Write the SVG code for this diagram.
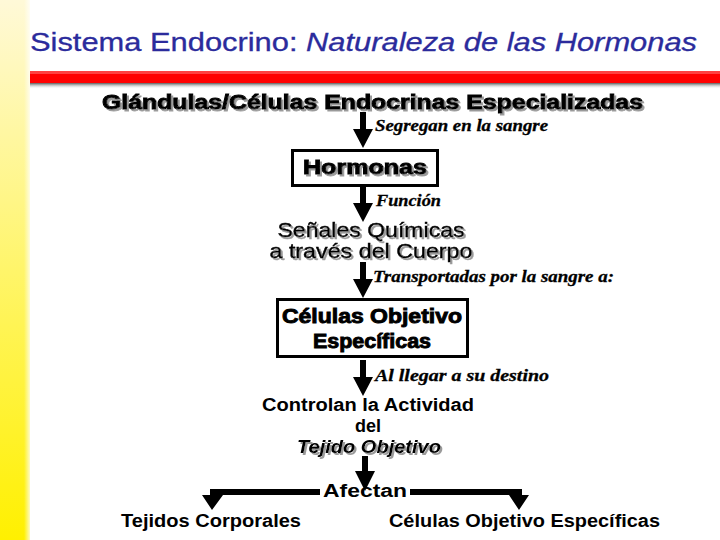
<svg xmlns="http://www.w3.org/2000/svg" width="720" height="540" viewBox="0 0 720 540">
<defs>
<linearGradient id="strip" x1="0" y1="0" x2="0" y2="1">
<stop offset="0" stop-color="#FFF9D8"/>
<stop offset="0.5" stop-color="#FFF56A"/>
<stop offset="1" stop-color="#FFF000"/>
</linearGradient>
<linearGradient id="stripEdge" x1="0" y1="0" x2="1" y2="0">
<stop offset="0" stop-color="#FFFFFF" stop-opacity="0"/>
<stop offset="1" stop-color="#FFFFFF" stop-opacity="1"/>
</linearGradient>
<linearGradient id="shadowBar" x1="0" y1="0" x2="0" y2="1">
<stop offset="0" stop-color="#222"/>
<stop offset="1" stop-color="#FFF" stop-opacity="0"/>
</linearGradient>
<filter id="sh" x="-5%" y="-20%" width="110%" height="150%">
<feOffset in="SourceAlpha" dx="2" dy="2" result="o"/>
<feFlood flood-color="#9a9a9a"/>
<feComposite in2="o" operator="in" result="s"/>
<feMerge><feMergeNode in="s"/><feMergeNode in="SourceGraphic"/></feMerge>
</filter>
</defs>
<style>
.t{font-family:"Liberation Sans",Arial,sans-serif;fill:#000}
.b{font-weight:bold}
.hv{stroke:#000;stroke-width:0.9}
.lbl{font-family:"Liberation Serif","Times New Roman",serif;font-style:italic;font-weight:bold;font-size:17px;fill:#000;stroke:#000;stroke-width:0.3}
.box{fill:#fff;stroke:#000;stroke-width:3}
.arr{fill:#000;stroke:none}
</style>
<rect width="720" height="540" fill="#fff"/>
<rect x="0" y="0" width="30" height="540" fill="url(#strip)"/>
<rect x="24" y="0" width="8" height="540" fill="url(#stripEdge)"/>
<text class="t" x="30" y="51" font-size="25" style="fill:#2B2B9C;stroke:#2B2B9C;stroke-width:0.3" textLength="667" lengthAdjust="spacingAndGlyphs">Sistema Endocrino: <tspan font-style="italic">Naturaleza de las Hormonas</tspan></text>
<rect x="30" y="82" width="690" height="7" fill="url(#shadowBar)"/>
<rect x="30" y="71" width="690" height="12" fill="#FF0000"/>
<rect x="30" y="71" width="690" height="3" fill="#FF4040"/>

<g id="glandulas" filter="url(#sh)">
<text class="t b hv" x="102" y="109" font-size="20" textLength="541" lengthAdjust="spacingAndGlyphs">Glándulas/Células Endocrinas Especializadas</text>
</g>
<g id="hormonas">
<rect class="box" x="292.5" y="150.5" width="145" height="35"/>
<text class="t b hv" x="365" y="174" font-size="20" text-anchor="middle" filter="url(#sh)" textLength="124" lengthAdjust="spacingAndGlyphs">Hormonas</text>
</g>
<g id="senales" filter="url(#sh)">
<text class="t" x="371" y="237" font-size="21" text-anchor="middle" style="stroke:#000;stroke-width:0.4" textLength="187" lengthAdjust="spacingAndGlyphs">Señales Químicas</text>
<text class="t" x="371" y="258" font-size="21" text-anchor="middle" style="stroke:#000;stroke-width:0.4" textLength="203" lengthAdjust="spacingAndGlyphs">a través del Cuerpo</text>
</g>
<g id="celulas">
<rect class="box" x="277.5" y="299.5" width="190" height="57"/>
<text class="t b hv" x="372" y="323" font-size="20" text-anchor="middle" textLength="180" lengthAdjust="spacingAndGlyphs">Células Objetivo</text>
<text class="t b hv" x="372" y="348" font-size="20" text-anchor="middle" textLength="118" lengthAdjust="spacingAndGlyphs">Específicas</text>
</g>
<g id="controlan">
<text class="t b" x="368" y="411" font-size="18" text-anchor="middle" textLength="212" lengthAdjust="spacingAndGlyphs">Controlan la Actividad</text>
<text class="t b" x="368" y="432" font-size="18" text-anchor="middle">del</text>
<text class="t b" x="369" y="453" font-size="18" font-style="italic" text-anchor="middle" filter="url(#sh)" textLength="144" lengthAdjust="spacingAndGlyphs">Tejido Objetivo</text>
</g>
<g id="tejidos">
<text class="t b" x="121" y="527" font-size="18" textLength="180" lengthAdjust="spacingAndGlyphs">Tejidos Corporales</text>
</g>
<g id="celulas2">
<text class="t b" x="389" y="527" font-size="18" textLength="271" lengthAdjust="spacingAndGlyphs">Células Objetivo Específicas</text>
</g>

<g id="connectors">
<path class="arr" d="M360 112 H366 V129 H373 L363 148 L353 129 H360 Z"/>
<text class="lbl" x="375" y="131" textLength="173" lengthAdjust="spacingAndGlyphs">Segregan en la sangre</text>
<path class="arr" d="M360 187 H366 V203 H373 L363 222 L353 203 H360 Z"/>
<text class="lbl" x="376" y="206" textLength="65" lengthAdjust="spacingAndGlyphs">Función</text>
<path class="arr" d="M360 262 H366 V279 H373 L363 298 L353 279 H360 Z"/>
<text class="lbl" x="373" y="282" textLength="241" lengthAdjust="spacingAndGlyphs">Transportadas por la sangre a:</text>
<path class="arr" d="M360 360 H366 V377 H373 L363 396 L353 377 H360 Z"/>
<text class="lbl" x="375" y="381" textLength="174" lengthAdjust="spacingAndGlyphs">Al llegar a su destino</text>
<path class="arr" d="M362 456 H368 V471 H375 L365 491 L355 471 H362 Z"/>
<path class="arr" d="M210 489 H320 V495 H216 H223 L212 510 L202 495 H210 Z"/>
<path class="arr" d="M410 489 H522 V495 H529 L519 510 L509 495 H516 H410 Z"/>
<text class="t b" x="365" y="497" font-size="18" text-anchor="middle" textLength="84" lengthAdjust="spacingAndGlyphs">Afectan</text>
</g>
</svg>
